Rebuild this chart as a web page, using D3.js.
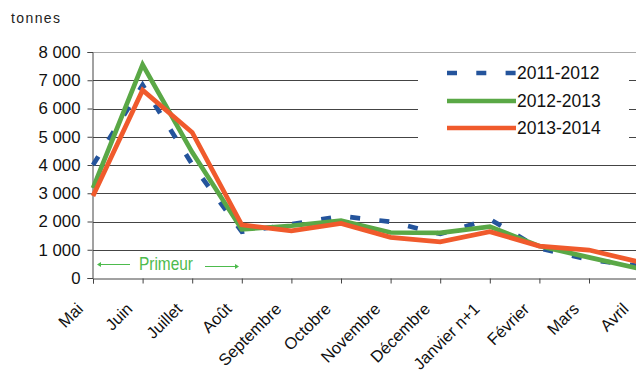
<!DOCTYPE html>
<html>
<head>
<meta charset="utf-8">
<script src="https://cdnjs.cloudflare.com/ajax/libs/d3/7.8.5/d3.min.js"></script>
<style>
  body { margin: 0; background: #fff; }
  svg { display: block; font-family: "Liberation Sans", Arial, sans-serif; }
</style>
</head>
<body>
<script>
// categories (months of the season)
var months = ["Mai", "Juin", "Juillet", "Août", "Septembre", "Octobre", "Novembre",
              "Décembre", "Janvier n+1", "Février", "Mars", "Avril"];

// series values, tonnes
var s2011 = [4000, 6830, 4020, 1640, 1900, 2190, 1990, 1560, 2080, 1050, 650, 430];
var s2012 = [3180, 7550, 4450, 1720, 1850, 2030, 1610, 1600, 1820, 1130, 730, 340];
var s2013 = [2900, 6650, 5150, 1880, 1670, 1930, 1440, 1280, 1640, 1130, 990, 570];

var yTicks = [0, 1000, 2000, 3000, 4000, 5000, 6000, 7000, 8000];

var series = [
  {name: "2011-2012", values: s2011, color: "#24549c", dash: "10,19.3"},
  {name: "2012-2013", values: s2012, color: "#5aa846", dash: null},
  {name: "2013-2014", values: s2013, color: "#f05a2c", dash: null}
];

var W = 636, H = 374;

// set the ranges
var x = d3.scalePoint().domain(months).range([93, 638.6]);
var y = d3.scaleLinear().domain([0, 8000]).range([278, 52]);

var svg = d3.select("body").append("svg")
    .attr("width", W)
    .attr("height", H);

// unit label
svg.append("text")
    .attr("x", 11).attr("y", 23)
    .attr("font-size", 14)
    .attr("letter-spacing", 1.4)
    .attr("fill", "#222")
    .text("tonnes");

// gridlines
svg.append("g").selectAll("line")
    .data(yTicks.filter(function(d) { return d > 0; }))
  .enter().append("line")
    .attr("x1", 93).attr("x2", W)
    .attr("y1", function(d) { return Math.round(y(d)) + 0.5; })
    .attr("y2", function(d) { return Math.round(y(d)) + 0.5; })
    .attr("stroke", function(d) { return d === 8000 ? "#aaa" : "#444"; })
    .attr("stroke-width", 1);

// y axis
var yAxis = svg.append("g")
    .attr("transform", "translate(92.5,0)")
    .call(d3.axisLeft(y).tickValues(yTicks).tickSize(5).tickPadding(7)
      .tickFormat(function(d) { return d3.format(",")(d).replace(",", " "); }));
yAxis.select(".domain").attr("stroke", "#444");
yAxis.selectAll(".tick line").attr("stroke", "#444");
yAxis.selectAll("text").attr("font-size", 16.8).attr("fill", "#111")
    .attr("font-family", "Liberation Sans, Arial, sans-serif");

// x axis
var xAxis = svg.append("g")
    .attr("transform", "translate(0,278.5)")
    .call(d3.axisBottom(x).tickSize(5).tickFormat(""));
xAxis.select(".domain").attr("stroke", "#444");
xAxis.selectAll(".tick line").attr("stroke", "#444");

svg.append("g").selectAll("text")
    .data(months)
  .enter().append("text")
    .attr("transform", function(d) {
      return "translate(" + (x(d) - 9) + ",310) rotate(-45)";
    })
    .attr("text-anchor", "end")
    .attr("font-size", 16.5)
    .attr("fill", "#111")
    .text(function(d) { return d; });

// legend box (hides the gridlines behind it)
svg.append("rect")
    .attr("x", 418).attr("y", 56)
    .attr("width", 211).attr("height", 90)
    .attr("fill", "#fff");

// "Primeur" note with arrows
var green = "#4dbb4d";
svg.append("text")
    .attr("x", 139).attr("y", 270)
    .attr("font-size", 19)
    .attr("textLength", 54)
    .attr("lengthAdjust", "spacingAndGlyphs")
    .attr("fill", green)
    .text("Primeur");
svg.append("line").attr("x1", 98).attr("x2", 130)
    .attr("y1", 264.5).attr("y2", 264.5).attr("stroke", green);
svg.append("path").attr("d", "M97,264.5 l4,-2.5 l0,5 z").attr("fill", green);
svg.append("line").attr("x1", 205).attr("x2", 237)
    .attr("y1", 266.5).attr("y2", 266.5).attr("stroke", green);
svg.append("path").attr("d", "M239,266.5 l-4,-2.5 l0,5 z").attr("fill", green);

// define the line
var valueline = d3.line()
    .x(function(d, i) { return x(months[i]); })
    .y(function(d) { return y(d); });

var chart = svg.append("g");
series.forEach(function(s) {
  chart.append("path")
      .datum(s.values)
      .attr("fill", "none")
      .attr("stroke", s.color)
      .attr("stroke-width", 4.7)
      .attr("stroke-dasharray", s.dash)
      .attr("stroke-linejoin", "miter")
      .attr("d", valueline);
});

// legend
var rows = [73, 101, 128];
series.forEach(function(s, i) {
  svg.append("line")
      .attr("x1", 447).attr("x2", 516)
      .attr("y1", rows[i]).attr("y2", rows[i])
      .attr("stroke", s.color)
      .attr("stroke-width", 4.7)
      .attr("stroke-dasharray", s.dash);
  svg.append("text")
      .attr("x", 517).attr("y", rows[i] + 6)
      .attr("font-size", 17.5)
      .attr("fill", "#111")
      .text(s.name);
});
</script>
</body>
</html>
